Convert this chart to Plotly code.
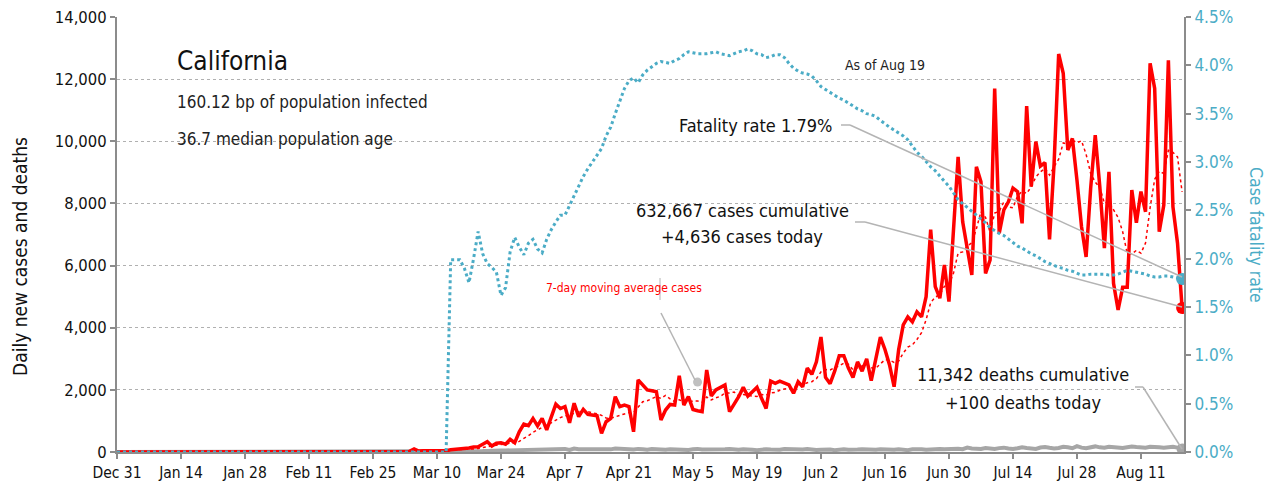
import pandas as pd
import plotly.graph_objects as go

# ---------------- data ----------------
START = "2019-12-31"

cases = (
    [0] * 61 +
    [0, 5, 10, 20, 100, 30, 40, 40, 50, 60, 60, 40, 70, 80, 100, 100, 130, 160] +
    [170, 250, 330, 190, 280, 300, 250, 410, 300, 650,
     900, 850, 1080, 840, 1080, 710, 1100, 1540, 1400, 1460,
     940, 1570, 1140, 1370, 1210, 1190, 1170, 600, 975, 1080,
     1780, 1460, 1510, 1460, 650, 2320, 2150, 2000, 1970, 1940,
     1030, 1350, 1530, 1510, 2450, 1510, 1780, 1370, 1330, 1300,
     2640, 1800, 2000, 2080, 2160, 1300, 1540, 1780, 2080, 1800,
     1940, 2080, 1730, 1400, 2280, 2210, 2280, 2220, 2160, 1890,
     2260] +
    [2100, 2700, 2500, 2900, 3700, 2400, 2200, 2600, 3100, 3100,
     2700, 2400, 2900, 2600, 3000, 2300, 3000, 3700, 3300, 2800, 2100, 3300] +
    [4090, 4350, 4190, 4510, 4350, 5000, 7160, 5320, 4950, 6020,
     4840, 7040, 9500, 7410, 6610, 5700, 9180, 8700, 5750, 6180,
     11700, 7040, 7790, 8050, 8490, 8380, 7360, 11130, 8540, 9990,
     9200, 9310, 6840, 9290, 12810, 12190, 9720, 10090, 8750, 7250,
     6280, 8490, 10200, 8540, 6560, 9020, 5430, 4570, 5300, 5300,
     8430, 7380, 8380, 7730, 12510, 11700, 7090, 7950, 12610, 7890,
     6720, 4636]
)

deaths = (
    [0] * 65 +
    [1, 1, 2, 3, 2, 4, 5, 6, 8, 10, 12, 15, 18, 20,
     25, 30, 35, 28, 40, 45, 50, 55, 48, 60, 65, 70, 62, 75,
     80, 90, 70, 85, 95, 100, 65, 110, 90, 85, 80, 95, 100, 70,
     60, 85, 110, 95, 75, 90, 80, 100, 85, 70, 95, 80, 60, 75,
     90, 80, 95, 70, 65, 85, 100, 80, 75, 90, 70, 60, 85, 95,
     80, 70, 90, 95, 75, 60, 85, 90, 80, 70, 75, 95, 85, 70,
     60, 80, 95, 75, 65, 70, 90, 80, 60, 75, 85, 70, 65, 80,
     90, 75, 60, 70, 85, 80, 65, 70, 90, 75, 60, 85, 100, 90,
     70, 80, 110, 100, 85, 95, 120, 105, 90, 140, 110, 95, 100, 130,
     115, 100, 125, 140, 110, 95, 120, 150, 130, 110, 100, 145, 160, 135,
     115, 130, 170, 150, 120, 190, 140, 125, 160, 180, 150, 135, 170, 160,
     140, 130, 155, 175, 160, 145, 140, 165, 170, 150, 135, 160, 170, 140, 100]
)

fatality_pct = (
    [0.0] * 73 +
    [1.99, 1.99, 1.99, 1.90, 1.75, 2.00, 2.28, 2.05, 1.95, 1.91,
     1.86, 1.62, 1.70, 2.07, 2.22, 2.12, 2.04, 2.16, 2.20, 2.10,
     2.06, 2.20, 2.30, 2.38, 2.45, 2.45, 2.55, 2.65, 2.75, 2.85,
     2.93, 3.00, 3.07, 3.14, 3.27, 3.36, 3.50, 3.64, 3.76, 3.84,
     3.87, 3.82, 3.90, 3.95, 3.99, 4.02, 4.04, 4.03, 4.02, 4.05,
     4.07, 4.11, 4.14, 4.13, 4.12, 4.12, 4.12, 4.13, 4.14, 4.12,
     4.11, 4.10, 4.12, 4.14, 4.15, 4.17, 4.15, 4.12, 4.11, 4.08,
     4.09, 4.11, 4.11, 4.08, 4.02, 3.97, 3.94, 3.92, 3.91, 3.89,
     3.84, 3.78, 3.75, 3.72, 3.69, 3.66, 3.64, 3.61, 3.58, 3.55,
     3.53, 3.50, 3.49, 3.47, 3.43, 3.39, 3.36, 3.33, 3.30, 3.27,
     3.23, 3.16, 3.10, 3.06, 3.00, 2.95, 2.91, 2.85, 2.80, 2.75,
     2.68, 2.61, 2.57, 2.53, 2.49, 2.44, 2.41, 2.37, 2.32, 2.29,
     2.26, 2.24, 2.20, 2.16, 2.13, 2.11, 2.08, 2.05, 2.03, 2.00,
     1.97, 1.95, 1.93, 1.91, 1.90, 1.88, 1.87, 1.85, 1.83, 1.83,
     1.84, 1.84, 1.84, 1.84, 1.83, 1.83, 1.84, 1.86, 1.88, 1.87,
     1.86, 1.85, 1.84, 1.82, 1.81, 1.81, 1.82, 1.82, 1.81, 1.80,
     1.79]
)

tick_labels = ["Dec 31", "Jan 14", "Jan 28", "Feb 11", "Feb 25", "Mar 10", "Mar 24",
               "Apr 7", "Apr 21", "May 5", "May 19", "Jun 2", "Jun 16", "Jun 30",
               "Jul 14", "Jul 28", "Aug 11"]

ma_label_day = 127
ma_label_value = 2250

n = len(cases)
assert len(deaths) == n and len(fatality_pct) == n, (len(cases), len(deaths), len(fatality_pct))

dates = pd.date_range(START, periods=n, freq="D")
ma7 = pd.Series(cases).rolling(7, min_periods=1).mean()
tick_dates = pd.date_range(START, periods=len(tick_labels), freq="14D")

# ---------------- style ----------------
FONT = "DejaVu Sans Condensed, Liberation Sans Narrow, Arial Narrow, sans-serif"
RED = "#ff0000"
BLUE = "#4bacc6"
GRAY = "#a6a6a6"
AXIS = "#8c8c8c"

# page body has an 8px margin; the figure is sized so the plot area lands
# at page pixels x 117..1184, y 17..452
OFF = 8
W, H = 1275 - 2 * OFF, 491 - 2 * OFF
L, R, T, B = 117, 1184, 17, 452


def px(xp):
    return (xp - L) / (R - L)


def py(yp):
    return (B - yp) / (B - T)


fig = go.Figure()

fig.add_trace(go.Scatter(x=dates, y=deaths, mode="lines",
                         line=dict(color=GRAY, width=4), hoverinfo="skip"))
fig.add_trace(go.Scatter(x=dates, y=cases, mode="lines",
                         line=dict(color=RED, width=3.5), hoverinfo="skip"))
fig.add_trace(go.Scatter(x=dates, y=ma7, mode="lines",
                         line=dict(color=RED, width=1.5, dash="dot"), hoverinfo="skip"))
fig.add_trace(go.Scatter(x=dates, y=fatality_pct, mode="lines", yaxis="y2",
                         line=dict(color=BLUE, width=3, dash="dot"), hoverinfo="skip"))

# end markers
fig.add_trace(go.Scatter(x=[dates[-1]], y=[deaths[-1]], mode="markers",
                         marker=dict(color=GRAY, size=11), hoverinfo="skip"))
fig.add_trace(go.Scatter(x=[dates[-1]], y=[cases[-1]], mode="markers",
                         marker=dict(color=RED, size=12), hoverinfo="skip"))
fig.add_trace(go.Scatter(x=[dates[-1]], y=[fatality_pct[-1]], mode="markers", yaxis="y2",
                         marker=dict(color=BLUE, size=12), hoverinfo="skip"))
fig.add_trace(go.Scatter(x=[dates[ma_label_day]], y=[ma_label_value], mode="markers",
                         marker=dict(color="#c0c0c0", size=9), hoverinfo="skip"))

# leader lines (paper coordinates)
LEAD = dict(color="#b4b4b4", width=1.5)
segments = [
    ((841, 125), (850, 125)), ((850, 125), (1182, 277)),
    ((855, 222), (865, 222)), ((865, 222), (1182, 307)),
    ((1135, 387), (1143, 387)), ((1143, 387), (1182, 449)),
    ((661, 313), (695, 380)),
]
shapes = []
for (x0, y0), (x1, y1) in segments:
    shapes.append(dict(type="line", xref="paper", yref="paper",
                       x0=px(x0), y0=py(y0), x1=px(x1), y1=py(y1), line=LEAD))
shapes.append(dict(type="line", xref="paper", yref="paper",
                   x0=px(660), y0=py(278), x1=px(660), y1=py(300),
                   line=dict(color="#b4b4b4", width=1)))


def text(t, xp, yp, size, color="#111111", xanchor="center", **kw):
    return dict(text=t, x=px(xp), y=py(yp), xref="paper", yref="paper",
                xanchor=xanchor, yanchor="middle", showarrow=False,
                font=dict(family=FONT, size=size, color=color), **kw)


annotations = [
    text("California", 175, 61, 26, xanchor="left"),
    text("160.12 bp of population infected", 175, 102, 17, xanchor="left", color="#222"),
    text("36.7 median population age", 175, 139, 17, xanchor="left", color="#222"),
    text("As of Aug 19", 885, 65, 14, color="#222"),
    text("Fatality rate 1.79%", 834, 125, 18, xanchor="right"),
    text("632,667 cases cumulative", 742, 210, 18),
    text("+4,636 cases today", 742, 236, 18),
    text("11,342 deaths cumulative", 1023, 374, 18),
    text("+100 deaths today", 1023, 402, 18),
    text("7-day moving average cases", 624, 288, 12, color=RED),
    text("Case fatality rate", 1256, 235, 17.5, color=BLUE, textangle=90),
    text("Daily new cases and deaths", 20, 257, 19, textangle=-90),
]

common_axis = dict(automargin=False, zeroline=False, showline=True,
                   linecolor=AXIS, linewidth=2, ticks="outside", ticklen=5,
                   tickcolor=AXIS, tickwidth=1.5, ticklabeloverflow="allow")

fig.update_layout(
    width=W, height=H,
    margin=dict(l=L - OFF, r=W - (R - OFF), t=T - OFF, b=H - (B - OFF), pad=0,
                autoexpand=False),
    paper_bgcolor="white", plot_bgcolor="white",
    showlegend=False,
    font=dict(family=FONT, color="#111111"),
    shapes=shapes,
    annotations=annotations,
    xaxis=dict(
        type="date",
        range=[dates[0], dates[-1] + pd.Timedelta(hours=10)],
        tickvals=tick_dates, ticktext=tick_labels,
        showgrid=False,
        tickfont=dict(family=FONT, size=15.5, color="#111"),
        **common_axis,
    ),
    yaxis=dict(
        range=[0, 14000], dtick=2000, tickformat=",d",
        showgrid=True, gridcolor="#b0b0b0", griddash="dot", gridwidth=1,
        tickfont=dict(family=FONT, size=16.5, color="#111"),
        **common_axis,
    ),
    yaxis2=dict(
        range=[0, 4.5], dtick=0.5, tickformat=".1f", ticksuffix="%",
        overlaying="y", side="right",
        showgrid=False,
        tickfont=dict(family=FONT, size=17, color=BLUE),
        **common_axis,
    ),
)

fig.write_html("out.html")
